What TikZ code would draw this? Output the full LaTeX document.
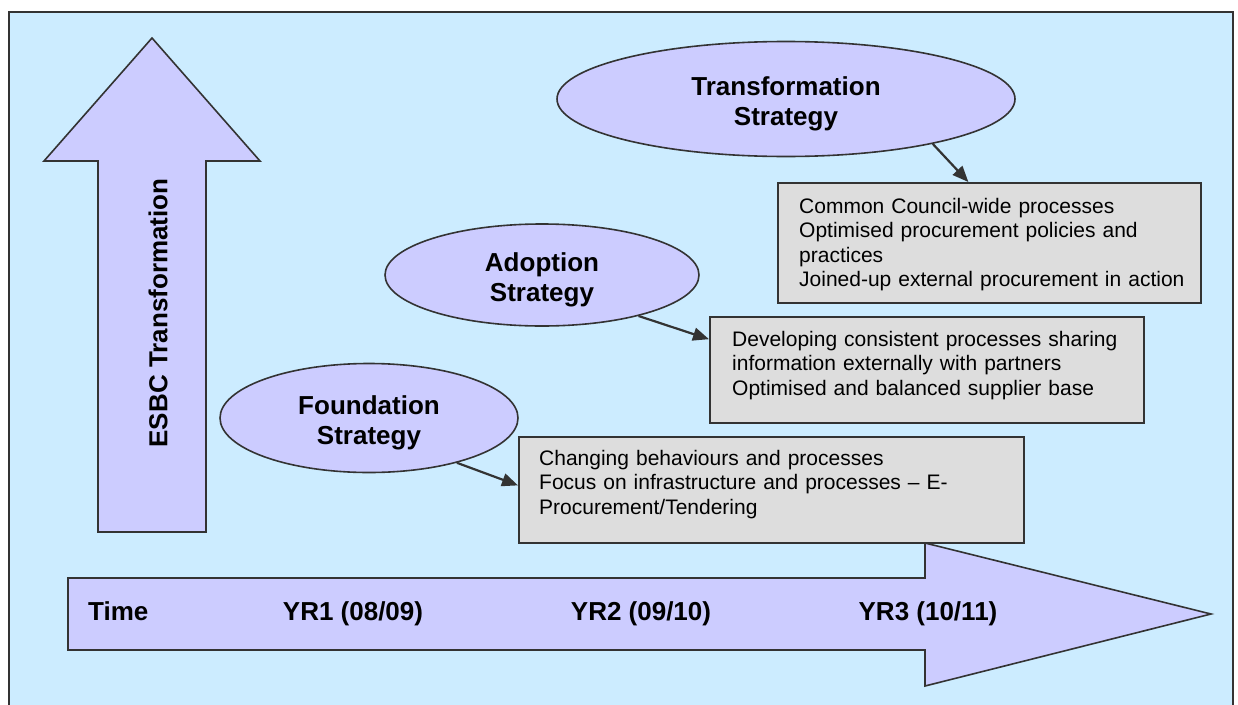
\documentclass[tikz,border=0pt]{standalone}
\usepackage{fontspec}
\setmainfont{Liberation Sans}
\usepackage{tikz}
\usepackage{xcolor}
\usetikzlibrary{shapes.geometric, arrows.meta, calc}

\definecolor{skyback}{HTML}{CCECFF}
\definecolor{lilac}{HTML}{CCCCFF}
\definecolor{boxgrey}{HTML}{DDDDDD}
\definecolor{edge}{HTML}{333333}

\begin{document}
\begin{tikzpicture}[x=1pt, y=-1pt,
  strat/.style={ellipse, draw=edge, line width=1.6pt, fill=lilac, inner sep=0pt, align=center, font=\fontsize{26}{30}\selectfont\bfseries},
  infobox/.style={rectangle, draw=edge, line width=1.6pt, fill=boxgrey, anchor=north west, inner sep=0pt},
  infotext/.style={anchor=base west, inner sep=0pt, text width=440pt, align=left, font=\fontsize{21}{24.5}\selectfont},
  yrlabel/.style={anchor=base, inner sep=0pt, font=\fontsize{26}{30}\selectfont\bfseries},
  link/.style={draw=edge, line width=2.2pt, -{Triangle[length=16pt,width=13pt]}}]
  \useasboundingbox (0,0) rectangle (1238,704);
  \draw[edge, line width=1.8pt, fill=skyback] (9,12) rectangle (1233,720); %frame runs off the bottom

  % the two big arrows
  \draw[edge, line width=1.6pt, fill=lilac] (152,38) -- (260,161) -- (206,161) -- (206,532) -- (98,532) -- (98,161) -- (44,161) -- cycle;
  \draw[edge, line width=1.6pt, fill=lilac] (68,578) -- (925,578) -- (925,543) -- (1211,614) -- (925,686) -- (925,650) -- (68,650) -- cycle;
  \node[yrlabel, rotate=90, anchor=center] (esbc) at (158,313) {ESBC Transformation};
  \node[yrlabel, anchor=base west] (time) at (88,620) {Time};
  \node[yrlabel] (yr1) at (353,620) {YR1 (08/09)};
  \node[yrlabel] (yr2) at (641,620) {YR2 (09/10)};
  \node[yrlabel] (yr3) at (928,620) {YR3 (10/11)};

  % strategies
  \node[strat, minimum width=458pt, minimum height=115pt] (tstrat) at (786,99) {\rule{0pt}{28pt}Transformation\\Strategy};
  \node[strat, minimum width=314pt, minimum height=102pt] (astrat) at (542,275) {\rule{0pt}{28pt}Adoption\\Strategy};
  \node[strat, minimum width=298pt, minimum height=109pt] (fstrat) at (369,418) {\rule{0pt}{28pt}Foundation\\Strategy};

  \node[infobox, minimum width=423pt, minimum height=120pt] (tbox) at (777,182) {};
  \node[infobox, minimum width=434pt, minimum height=106pt] (abox) at (709,316) {};
  \node[infobox, minimum width=505pt, minimum height=106pt] (fbox) at (518,436) {};
  \node[infotext] (ttext) at ($(tbox.north west)+(22,31)$) {Common Council-wide processes\\Optimised procurement policies and\\practices\\Joined-up external procurement in action};
  \node[infotext] (atext) at ($(abox.north west)+(23,30)$) {Developing consistent processes sharing\\information externally with partners\\Optimised and balanced supplier base};
  \node[infotext] (ftext) at ($(fbox.north west)+(21,29)$) {Changing behaviours and processes\\Focus on infrastructure and processes -- E-\\Procurement/Tendering};

  \draw[link] (tstrat.343) -- (tbox.109);
  \draw[link] (astrat.337) -- (abox.172);
  \draw[link] (fstrat.333) -- (fbox.179);
\end{tikzpicture}
\end{document}
